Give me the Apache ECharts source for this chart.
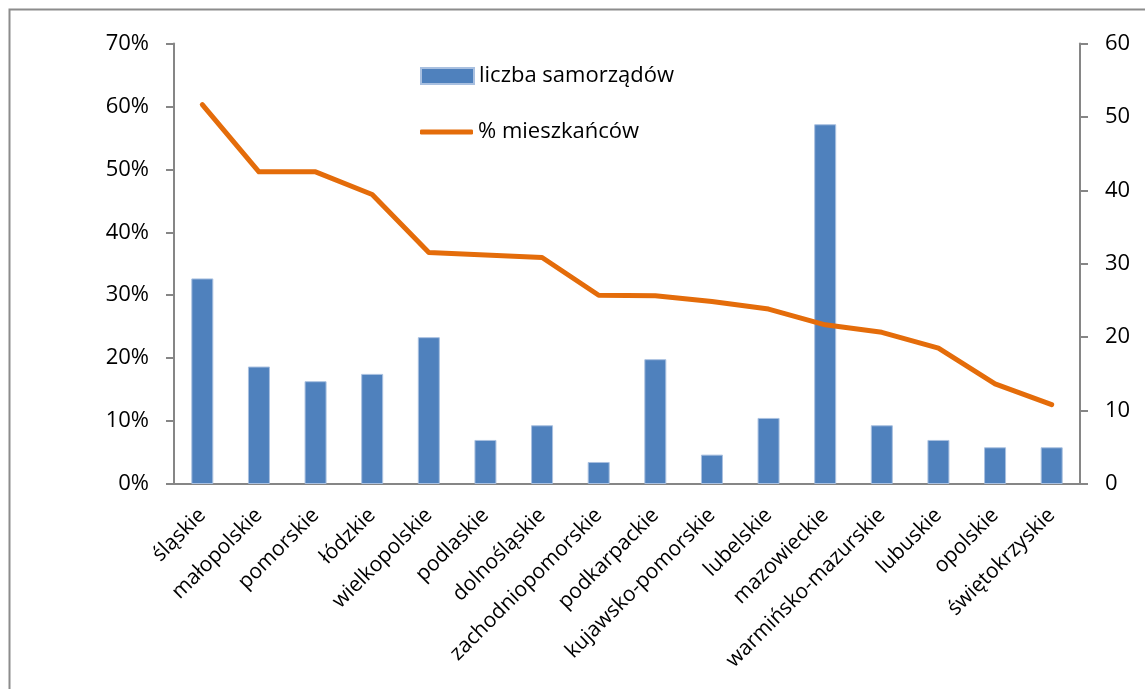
<!DOCTYPE html>
<html>
<head>
<meta charset="utf-8">
<script src="https://cdn.jsdelivr.net/npm/echarts@6/dist/echarts.min.js"></script>
<style>
  html, body { margin: 0; padding: 0; background: #fff; }
  #chart { width: 1145px; height: 689px; }
</style>
</head>
<body>
<div id="chart"></div>
<script>
// dane
var regiony = ['śląskie', 'małopolskie', 'pomorskie', 'łódzkie', 'wielkopolskie', 'podlaskie',
  'dolnośląskie', 'zachodniopomorskie', 'podkarpackie', 'kujawsko-pomorskie', 'lubelskie',
  'mazowieckie', 'warmińsko-mazurskie', 'lubuskie', 'opolskie', 'świętokrzyskie'];
var liczbaSamorzadow = [28, 16, 14, 15, 20, 6, 8, 3, 17, 4, 9, 49, 8, 6, 5, 5];
var procentMieszkancow = [60.3, 49.6, 49.6, 46.0, 36.8, 36.4, 36.0, 30.0, 29.9, 29.0, 27.8, 25.3, 24.1, 21.6, 15.9, 12.6];

var font = '"Open Sans", sans-serif';
var axisGray = '#868686';

var myChart = echarts.init(document.getElementById('chart'));
var option = {
  backgroundColor: '#fff',
  animation: false,
  textStyle: { fontFamily: font },
  graphic: [{
    type: 'rect',
    shape: { x: 9.5, y: 9.5, width: 1300, height: 900 },
    style: { fill: 'none', stroke: '#8c8c8c', lineWidth: 2 },
    silent: true
  }],
  grid: { left: 174, right: 65, top: 43.5, bottom: 205 },
  legend: [{
    left: 420,
    top: 65,
    padding: 0,
    itemWidth: 53,
    itemHeight: 16,
    textStyle: { fontSize: 22, color: '#000', fontFamily: font },
    data: [{ name: 'liczba samorządów', icon: 'rect' }]
  }, {
    left: 420,
    top: 121,
    padding: 0,
    itemWidth: 53,
    itemHeight: 5,
    textStyle: { fontSize: 22, color: '#000', fontFamily: font },
    data: [{ name: '% mieszkańców', icon: 'roundRect' }]
  }],
  xAxis: {
    type: 'category',
    data: regiony,
    axisLine: { lineStyle: { color: axisGray, width: 2 } },
    axisTick: { length: 8, lineStyle: { color: axisGray, width: 2 } },
    axisLabel: {
      rotate: 45,
      interval: 0,
      margin: 28,
      fontSize: 21,
      color: '#000',
      fontFamily: font
    }
  },
  yAxis: [{
    type: 'value',
    min: 0,
    max: 70,
    interval: 10,
    position: 'left',
    splitLine: { show: false },
    axisLine: { show: true, lineStyle: { color: axisGray, width: 2 } },
    axisTick: { show: true, length: 8, lineStyle: { color: axisGray, width: 2 } },
    axisLabel: { formatter: '{value}%', fontSize: 22, color: '#000', margin: 25, fontFamily: font }
  }, {
    type: 'value',
    min: 0,
    max: 60,
    interval: 10,
    position: 'right',
    splitLine: { show: false },
    axisLine: { show: true, lineStyle: { color: axisGray, width: 2 } },
    axisTick: { show: true, length: 8, lineStyle: { color: axisGray, width: 2 } },
    axisLabel: { fontSize: 22, color: '#000', margin: 25, fontFamily: font }
  }],
  series: [{
    name: 'liczba samorządów',
    type: 'bar',
    yAxisIndex: 1,
    barWidth: 22,
    data: liczbaSamorzadow,
    itemStyle: { color: '#4F81BD', borderColor: '#a9c0e0', borderWidth: 1 }
  }, {
    name: '% mieszkańców',
    type: 'line',
    yAxisIndex: 0,
    data: procentMieszkancow,
    symbol: 'none',
    z: 5,
    lineStyle: { color: '#E46C0A', width: 5, cap: 'round', join: 'round' },
    itemStyle: { color: '#E46C0A' }
  }]
};
myChart.setOption(option);
window.onresize = myChart.resize;
</script>
</body>
</html>
